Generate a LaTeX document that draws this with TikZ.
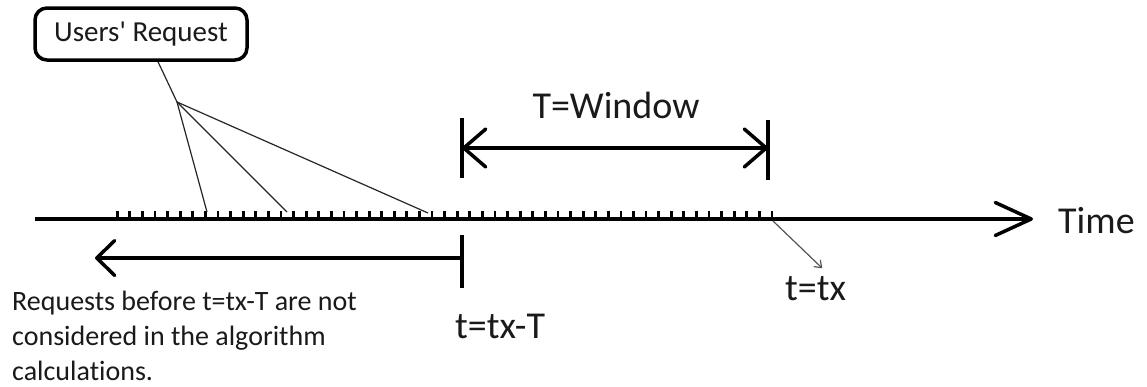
\documentclass[tikz,border=0pt]{standalone}
\usepackage{fontspec}
\setmainfont{Carlito}[Ligatures=NoCommon]
\usetikzlibrary{arrows.meta,calc}
\definecolor{ink}{HTML}{1A1A1A}
\definecolor{pointergray}{HTML}{555555}
\begin{document}
\begin{tikzpicture}[x=1pt,y=-1pt,
  heavy/.style={line width=3.5pt,draw=black},
  ticktick/.style={line width=2.8pt,draw=black},
  fan/.style={line width=1.2pt,draw=black!85},
  pointer/.style={line width=1.2pt,draw=pointergray,
    -{Straight Barb[length=6pt,width=9pt,round]}},
  lbl/.style={inner sep=0pt,text=ink,font=\fontsize{38}{46}\selectfont},
  reqbox/.style={draw=black,line width=3.5pt,rounded corners=12pt,
    minimum width=212pt,minimum height=52pt,inner sep=0pt,
    text=ink,font=\fontsize{29}{35}\selectfont},
  note/.style={inner sep=0pt,text=ink,font=\fontsize{28}{35}\selectfont}
]
\useasboundingbox (0,0) rectangle (1147,386);
\fill[white] (0,0) rectangle (1147,386);

% time axis with its tick marks
\coordinate (axL) at (35,219);
\coordinate (axR) at (1033,219);
\foreach \i in {0,...,52}
  \draw[ticktick] (117.3+\i*12.59,219) -- ++(0,-8);
\draw[heavy,-{Straight Barb[length=36pt,width=33pt,round]}] (axL) -- (axR);
\node[lbl,anchor=base west] (time) at (1058,233) {Time};

% window bracket
\coordinate (wL) at (462,148);
\coordinate (wR) at (768,148);
\draw[heavy] (462,118) -- (462,178);
\draw[heavy] (768,120) -- (768,180);
\draw[heavy,{Straight Barb[length=22pt,width=38pt,round]}-{Straight Barb[length=22pt,width=38pt,round]}] (wL) -- (wR);
\node[lbl,anchor=base] (win) at (616,118) {T=Window};

% discarded region before t=tx-T
\coordinate (cutR) at (462,258);
\coordinate (cutL) at (95,258);
\draw[heavy] (462,235) -- (462,288);
\draw[heavy,-{Straight Barb[length=18pt,width=35pt,round]}] (cutR) -- (cutL);
\node[lbl,anchor=base west] (txT) at (455,338) {t=tx-T};
\node[note,anchor=base west] (note) at (12,310)
  {\begin{tabular}[t]{@{}l@{}}Requests before t=tx-T are not\\considered in the algorithm\\calculations.\end{tabular}};

% current time marker
\node[lbl,anchor=base west] (tx) at (785,300) {t=tx};
\coordinate (tend) at (773,221);
\coordinate (txp) at (822,268);
\draw[pointer] (tend) -- (txp);

% user requests
\node[reqbox] (ur) at (141,34) {Users\textquotesingle\ Request};
\coordinate (j) at (177,102);
\coordinate (r1) at (207,212);
\coordinate (r2) at (287,212);
\coordinate (r3) at (428,213);
\draw[fan] ($(ur.south)+(17,0)$) -- (j);
\draw[fan] (j) -- (r1);
\draw[fan] (j) -- (r2);
\draw[fan] (j) -- (r3);
\end{tikzpicture}
\end{document}
